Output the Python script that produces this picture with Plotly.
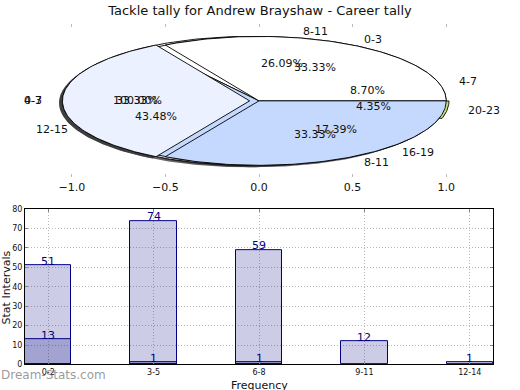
import numpy as np
import plotly.graph_objects as go

# ---------------- data ----------------
title = "Tackle tally for Andrew Brayshaw - Career tally"

pie_a_labels = ["4-7", "8-11", "12-15", "16-19", "20-23"]
pie_a_values = [2, 6, 10, 4, 1]
pie_b_labels = ["0-3", "4-7", "8-11"]
pie_b_values = [1, 1, 1]
pie_c_labels = ["0-3"]
pie_c_values = [1]

bar_categories = ["0-2", "3-5", "6-8", "9-11", "12-14"]
bar_values = [51, 74, 59, 12, 1]
bar2_categories = ["0-2", "3-5", "6-8"]
bar2_values = [13, 1, 1]

# ---------------- style ----------------
pie_a_colors = ["#FFFFFF", "#FFFFFF", "#C5D9FE", "#C5D9FE", "#C3DE78"]
pie_a_explode = [0, 0, 0, 0, 0.015]
pie_b_colors = ["#FFFFFF", "#EBF1FE", "#C5D9FE"]
pie_b_explode = [0, 0.05, 0]
pie_c_colors = ["#EBF1FE"]
pie_c_explode = [0.05]

fig = go.Figure()
annotations = []


def wedge_geom(values, explode):
    total = float(sum(values))
    out = []
    start = 0.0
    for v, e in zip(values, explode):
        span = 360.0 * v / total
        mid = np.deg2rad(start + span / 2)
        cx, cy = e * np.cos(mid), e * np.sin(mid)
        out.append((start, start + span, cx, cy, mid, 100.0 * v / total))
        start += span
    return out


def wedge_path(t1, t2, cx, cy, ox=0.0, oy=0.0):
    th = np.deg2rad(np.linspace(t1, t2, max(int(abs(t2 - t1)), 2) + 1))
    xs = np.concatenate([[cx], cx + np.cos(th), [cx]]) + ox
    ys = np.concatenate([[cy], cy + np.sin(th), [cy]]) + oy
    return xs, ys


def add_shadow(values, explode):
    for (t1, t2, cx, cy, mid, pct) in wedge_geom(values, explode):
        xs, ys = wedge_path(t1, t2, cx, cy, -0.018, -0.03)
        fig.add_trace(go.Scatter(x=xs, y=ys, fill="toself", mode="lines",
                                 line=dict(width=0), fillcolor="rgba(50,50,50,0.75)",
                                 hoverinfo="skip", showlegend=False,
                                 xaxis="x", yaxis="y"))


def add_pie(labels, values, colors, explode):
    geo = wedge_geom(values, explode)
    for (t1, t2, cx, cy, mid, pct), col in zip(geo, colors):
        xs, ys = wedge_path(t1, t2, cx, cy)
        fig.add_trace(go.Scatter(x=xs, y=ys, fill="toself", mode="lines",
                                 line=dict(width=0.9, color="black"), fillcolor=col,
                                 hoverinfo="skip", showlegend=False,
                                 xaxis="x", yaxis="y"))
    for (t1, t2, cx, cy, mid, pct), lab in zip(geo, labels):
        lx, ly = cx + 1.1 * np.cos(mid), cy + 1.1 * np.sin(mid)
        annotations.append(dict(x=lx, y=ly, xref="x", yref="y", text=lab,
                                showarrow=False, xanchor="left" if lx > 0 else "right",
                                yanchor="middle", font=dict(size=11, color="#111")))
        px, py = cx + 0.6 * np.cos(mid), cy + 0.6 * np.sin(mid)
        annotations.append(dict(x=px, y=py, xref="x", yref="y", text="%.2f%%" % pct,
                                showarrow=False, xanchor="center", yanchor="middle",
                                font=dict(size=11, color="#111")))


add_shadow(pie_c_values, pie_c_explode)
add_shadow(pie_b_values, pie_b_explode)
add_pie(pie_c_labels, pie_c_values, pie_c_colors, pie_c_explode)
add_pie(pie_a_labels, pie_a_values, pie_a_colors, pie_a_explode)
add_pie(pie_b_labels, pie_b_values, pie_b_colors, pie_b_explode)

# ---------------- bars ----------------
navy = "#000080"
for cats, vals in ((bar_categories, bar_values), (bar2_categories, bar2_values)):
    fig.add_trace(go.Bar(x=cats, y=vals, width=0.44,
                         marker=dict(color="rgba(0,0,128,0.2)", line=dict(color=navy, width=1)),
                         showlegend=False, xaxis="x2", yaxis="y2", hoverinfo="skip"))
    for c, v in zip(cats, vals):
        annotations.append(dict(x=c, y=v, xref="x2", yref="y2", text=str(v),
                                showarrow=False, xanchor="center", yanchor="middle",
                                yshift=4, font=dict(size=11, color=navy)))

annotations += [
    dict(text="Stat Intervals", x=6 / 520, y=0.256, xref="paper", yref="paper",
         textangle=-90, showarrow=False, xanchor="center", yanchor="middle",
         font=dict(size=11, color="#111")),
    dict(text="Frequency", x=259 / 520, y=1 - 382 / 390, xref="paper", yref="paper",
         showarrow=False, xanchor="center", yanchor="top",
         font=dict(size=11, color="#111")),
    dict(text="Dream-Stats.com", x=-0.002, y=1 - 380 / 390, xref="paper", yref="paper",
         showarrow=False, xanchor="left", yanchor="middle",
         font=dict(size=12, color="rgba(120,120,120,0.75)", family="DejaVu Sans")),
]

fig.update_layout(
    width=520, height=390,
    margin=dict(l=0, r=0, t=0, b=0),
    paper_bgcolor="white", plot_bgcolor="white",
    font=dict(family="DejaVu Sans", color="#111"),
    title=dict(text=title, x=0.5, xanchor="center", y=1 - 10 / 390, yanchor="middle",
               font=dict(size=13, color="#111")),
    barmode="overlay",
    bargap=0,
    annotations=annotations,
    xaxis=dict(domain=[25 / 520, 493 / 520], range=[-1.25, 1.25], anchor="y",
               tickvals=[-1, -0.5, 0, 0.5, 1], tickformat=".1f",
               ticks="inside", ticklen=3, tickcolor="#bbbbbb", mirror="ticks",
               showline=True, linecolor="rgba(0,0,0,0)", showgrid=False, zeroline=False,
               tickfont=dict(size=11, color="#111")),
    yaxis=dict(domain=[1 - 177 / 390, 1 - 20 / 390], range=[-1.18, 1.2], anchor="x",
               visible=False),
    xaxis2=dict(domain=[25 / 520, 493 / 520], range=[-0.22, 4.22], anchor="y2",
                type="category", ticks="inside", ticklen=3, tickcolor="#888",
                showline=True, linecolor="black", linewidth=1, mirror="ticks",
                showgrid=True, gridcolor="#b8b8b8", griddash="1px,2px", gridwidth=1,
                zeroline=False, tickfont=dict(size=8, color="#111")),
    yaxis2=dict(domain=[1 - 369 / 390, 1 - 210 / 390], range=[0, 80], anchor="x2",
                dtick=10, ticks="inside", ticklen=3, tickcolor="#888",
                showline=True, linecolor="black", linewidth=1, mirror="ticks",
                showgrid=True, gridcolor="#b8b8b8", griddash="1px,2px", gridwidth=1,
                zeroline=False, tickfont=dict(size=8, color="#111")),
)

fig.write_html("out.html", config={"displayModeBar": False},
               post_script="document.body.style.margin='0px';document.body.style.padding='0px';")
